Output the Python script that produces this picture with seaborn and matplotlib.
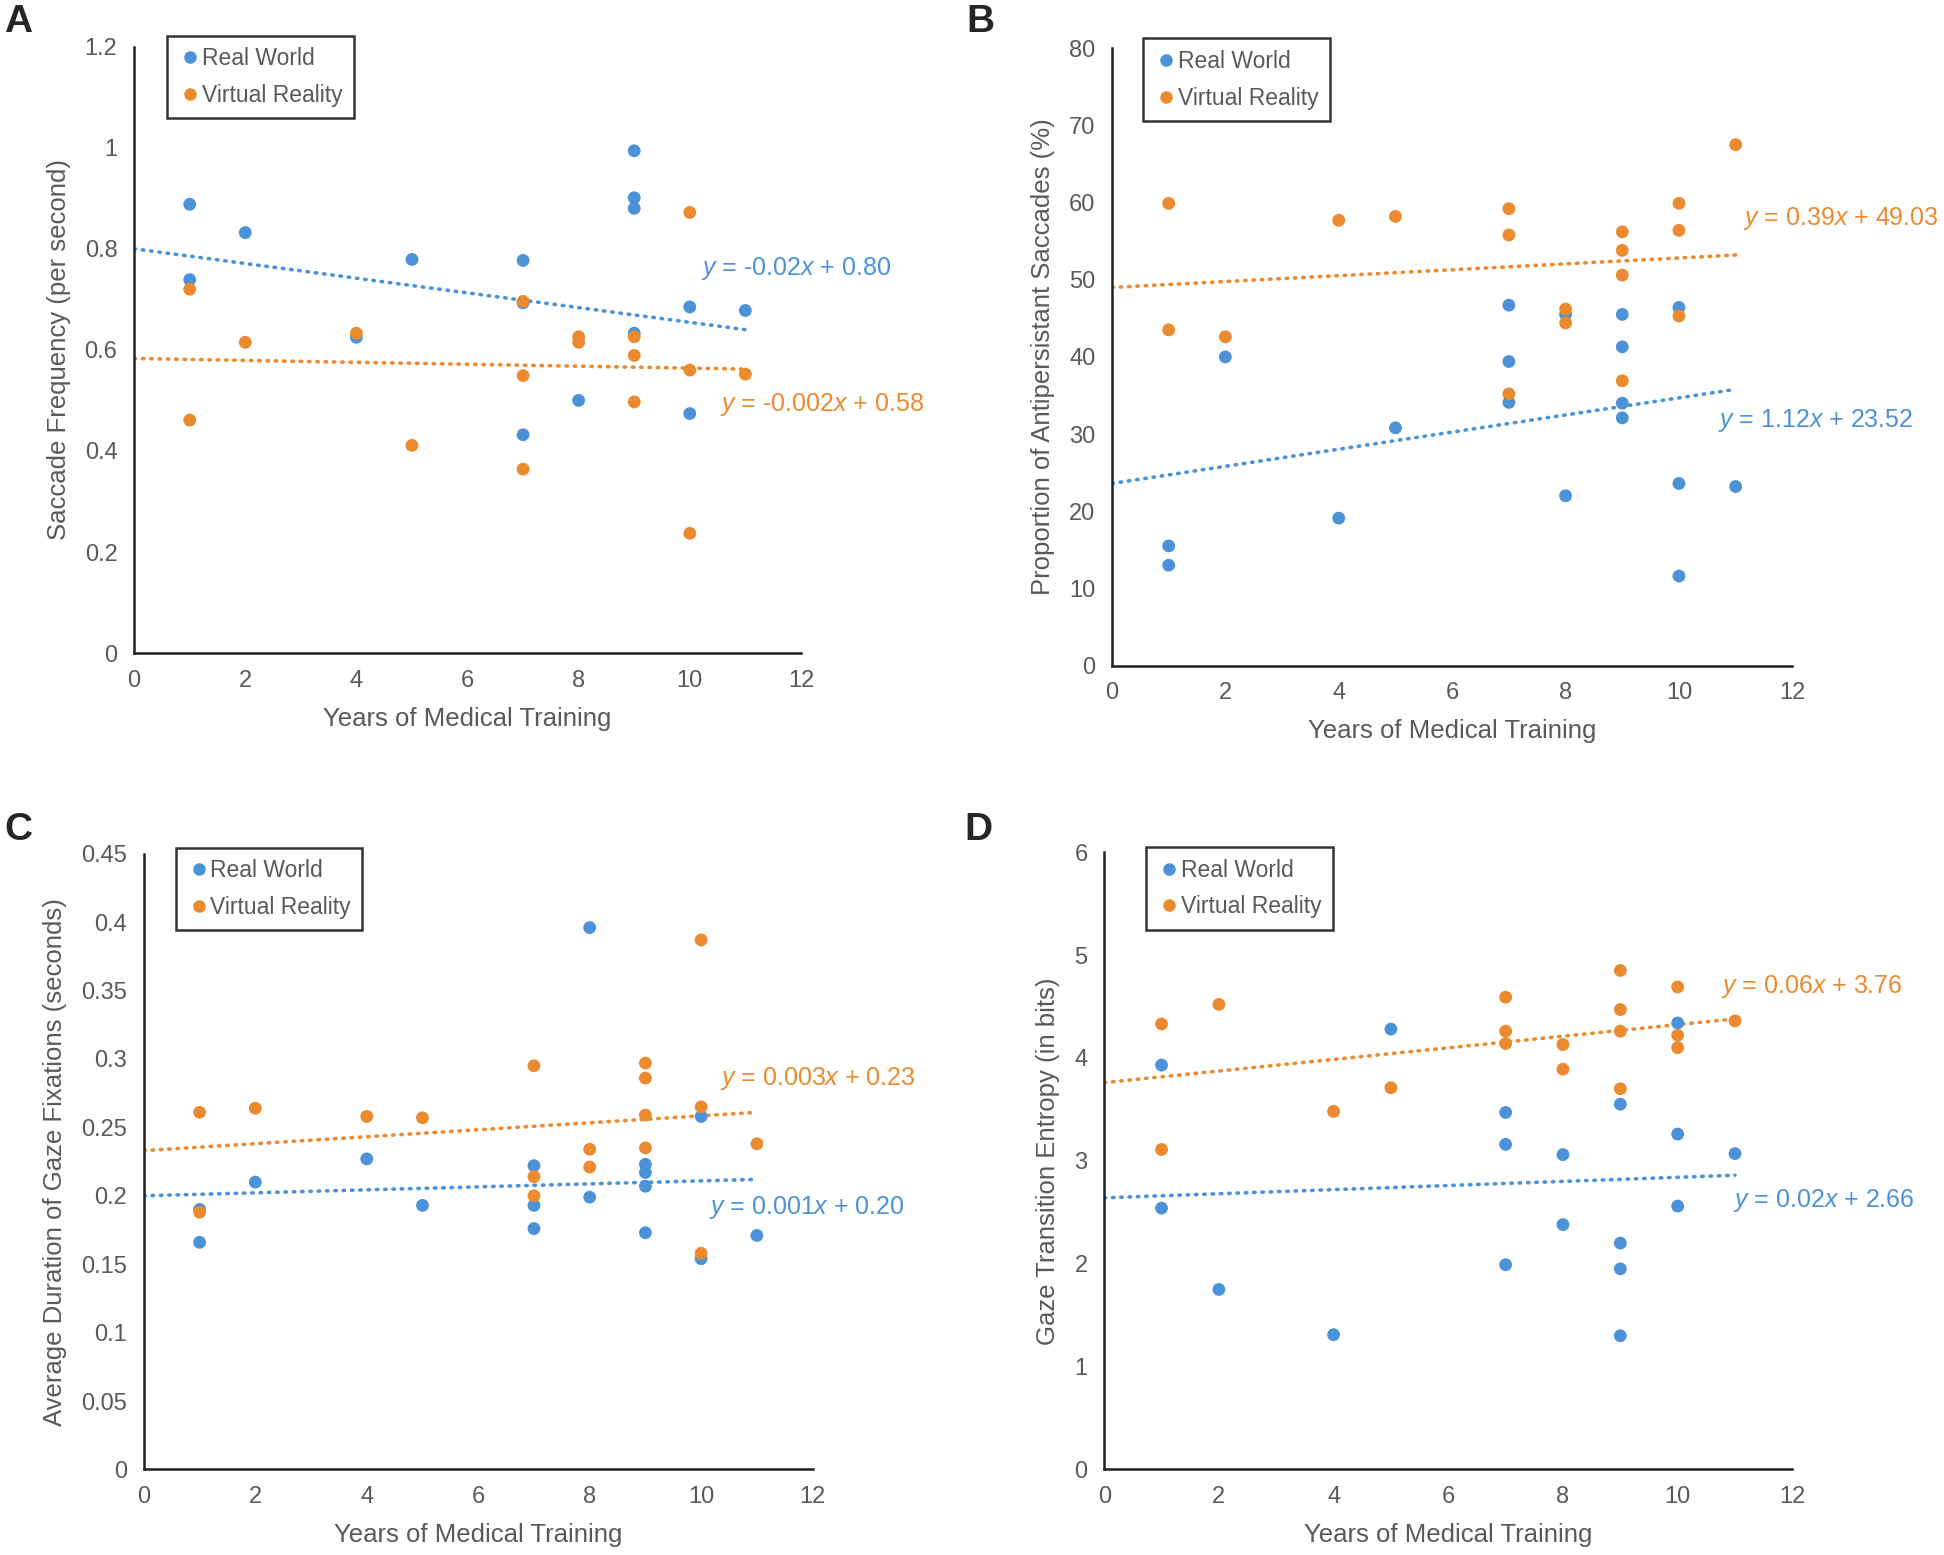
import pandas as pd
import matplotlib.pyplot as plt
import seaborn as sns
import numpy as np

# years of training (x) and measured values for each panel
years_rw_a = [1, 1, 2, 4, 5, 7, 7, 7, 8, 9, 9, 9, 9, 10, 10, 11]
vals_rw_a = [0.888, 0.739, 0.832, 0.625, 0.779, 0.777, 0.693, 0.432, 0.500,
             0.994, 0.901, 0.880, 0.633, 0.685, 0.474, 0.678]
years_vr_a = [1, 1, 2, 4, 5, 7, 7, 7, 8, 8, 9, 9, 9, 10, 10, 10, 11]
vals_vr_a = [0.720, 0.461, 0.615, 0.633, 0.411, 0.696, 0.549, 0.364, 0.626, 0.615,
             0.626, 0.589, 0.497, 0.872, 0.560, 0.237, 0.552]

years_b = [1, 1, 2, 4, 5, 7, 7, 7, 8, 8, 9, 9, 9, 9, 10, 10, 10, 11]
vals_rw_b = [15.5, 13.0, 40.0, 19.1, 30.8, 46.7, 39.4, 34.1, 45.5, 22.0,
             45.5, 41.3, 34.0, 32.1, 46.4, 23.6, 11.6, 23.2]
vals_vr_b = [59.9, 43.5, 42.6, 57.7, 58.2, 59.2, 55.8, 35.2, 46.2, 44.4,
             56.2, 53.8, 50.6, 36.9, 59.9, 56.4, 45.3, 67.5]

years_rw_c = [1, 1, 2, 4, 5, 7, 7, 7, 8, 8, 9, 9, 9, 9, 10, 10, 11]
vals_rw_c = [0.166, 0.190, 0.210, 0.227, 0.193, 0.222, 0.193, 0.176, 0.396, 0.199,
             0.223, 0.217, 0.207, 0.173, 0.258, 0.154, 0.171]
years_vr_c = [1, 1, 2, 4, 5, 7, 7, 7, 8, 8, 9, 9, 9, 9, 10, 10, 10, 11]
vals_vr_c = [0.261, 0.188, 0.264, 0.258, 0.257, 0.295, 0.214, 0.200, 0.234, 0.221,
             0.297, 0.286, 0.259, 0.235, 0.387, 0.265, 0.158, 0.238]

years_d = [1, 1, 2, 4, 5, 7, 7, 7, 8, 8, 9, 9, 9, 9, 10, 10, 10, 11]
vals_rw_d = [3.93, 2.54, 1.75, 1.31, 4.28, 3.47, 3.16, 1.99, 3.06, 2.38,
             3.55, 2.20, 1.95, 1.30, 4.34, 3.26, 2.56, 3.07]
vals_vr_d = [4.33, 3.11, 4.52, 3.48, 3.71, 4.59, 4.26, 4.14, 4.13, 3.89,
             4.85, 4.47, 4.26, 3.70, 4.69, 4.22, 4.10, 4.36]

# trendline ends (at x = 0 and x = 11)
trend_x = [0, 11]
trend_rw = {'A': [0.800, 0.640], 'B': [23.6, 35.8], 'C': [0.200, 0.212], 'D': [2.64, 2.86]}
trend_vr = {'A': [0.583, 0.562], 'B': [49.0, 53.2], 'C': [0.233, 0.261], 'D': [3.76, 4.38]}

eq_rw = {'A': '$y$ = -0.02$x$ + 0.80', 'B': '$y$ = 1.12$x$ + 23.52',
         'C': '$y$ = 0.001$x$ + 0.20', 'D': '$y$ = 0.02$x$ + 2.66'}
eq_vr = {'A': '$y$ = -0.002$x$ + 0.58', 'B': '$y$ = 0.39$x$ + 49.03',
         'C': '$y$ = 0.003$x$ + 0.23', 'D': '$y$ = 0.06$x$ + 3.76'}

ylabels = {'A': 'Saccade Frequency (per second)',
           'B': 'Proportion of Antipersistant Saccades (%)',
           'C': 'Average Duration of Gaze Fixations (seconds)',
           'D': 'Gaze Transition Entropy (in bits)'}
yticks = {'A': [0, 0.2, 0.4, 0.6, 0.8, 1, 1.2],
          'B': [0, 10, 20, 30, 40, 50, 60, 70, 80],
          'C': [0, 0.05, 0.1, 0.15, 0.2, 0.25, 0.3, 0.35, 0.4, 0.45],
          'D': [0, 1, 2, 3, 4, 5, 6]}
xticks = [0, 2, 4, 6, 8, 10, 12]

sns.set_style('white')
plt.rcParams['font.family'] = ['Liberation Sans', 'DejaVu Sans']
plt.rcParams['mathtext.fontset'] = 'custom'
plt.rcParams['mathtext.it'] = 'Liberation Sans:italic'
plt.rcParams['mathtext.rm'] = 'Liberation Sans'

blue = '#4C92D8'
orange = '#EB8A2E'
grey = '#595959'

panels = {
    'A': pd.concat([pd.DataFrame({'years': years_rw_a, 'value': vals_rw_a, 'group': 'Real World'}),
                    pd.DataFrame({'years': years_vr_a, 'value': vals_vr_a, 'group': 'Virtual Reality'})]),
    'B': pd.concat([pd.DataFrame({'years': years_b, 'value': vals_rw_b, 'group': 'Real World'}),
                    pd.DataFrame({'years': years_b, 'value': vals_vr_b, 'group': 'Virtual Reality'})]),
    'C': pd.concat([pd.DataFrame({'years': years_rw_c, 'value': vals_rw_c, 'group': 'Real World'}),
                    pd.DataFrame({'years': years_vr_c, 'value': vals_vr_c, 'group': 'Virtual Reality'})]),
    'D': pd.concat([pd.DataFrame({'years': years_d, 'value': vals_rw_d, 'group': 'Real World'}),
                    pd.DataFrame({'years': years_d, 'value': vals_vr_d, 'group': 'Virtual Reality'})]),
}

# axes boxes in figure fractions, legend anchors, equation positions
boxes = {'A': [0.069, 0.580, 0.343, 0.390], 'B': [0.572, 0.572, 0.350, 0.397],
         'C': [0.074, 0.055, 0.344, 0.396], 'D': [0.568, 0.055, 0.354, 0.397]}
leg_anchor = {'A': (0.05, 1.018), 'B': (0.046, 1.016), 'C': (0.048, 1.010), 'D': (0.061, 1.008)}
eq_rw_pos = {'A': (10.2, 0.762), 'B': (10.69, 31.7), 'C': (10.15, 0.1916), 'D': (10.96, 2.61)}
eq_vr_pos = {'A': (10.55, 0.492), 'B': (11.13, 57.9), 'C': (10.33, 0.2855), 'D': (10.75, 4.69)}
letter_pos = {'A': (0.002, 0.986), 'B': (0.497, 0.986), 'C': (0.002, 0.466), 'D': (0.496, 0.466)}

fig = plt.figure(figsize=(19.44, 15.55), dpi=100)

for key, df in panels.items():
    ax = fig.add_axes(boxes[key])
    sns.scatterplot(data=df, x='years', y='value', hue='group',
                    palette={'Real World': blue, 'Virtual Reality': orange},
                    s=85, edgecolor='none', legend=False, ax=ax, zorder=3)
    for tr, col in [(trend_rw, blue), (trend_vr, orange)]:
        sns.lineplot(x=trend_x, y=tr[key], color=col, linewidth=2.6, ax=ax, zorder=2,
                     dashes=False)
        ln = ax.lines[-1]
        ln.set_linestyle((0, (0.4, 1.9)))
        ln.set_dash_capstyle('round')

    yt = yticks[key]
    ax.set_xlim(0, 12)
    ax.set_ylim(yt[0], yt[-1])
    ax.set_xticks(xticks)
    ax.set_xticklabels([str(t) for t in xticks])
    ax.set_yticks(yt)
    ax.set_yticklabels(['{:g}'.format(t) for t in yt])
    ax.tick_params(axis='both', colors='#222222', labelcolor=grey, labelsize=17,
                   direction='in', length=6, width=1.8, pad=12)
    sns.despine(ax=ax)
    for sp in ['left', 'bottom']:
        ax.spines[sp].set_color('#222222')
        ax.spines[sp].set_linewidth(1.8)
    ax.set_xlabel('Years of Medical Training', fontsize=18.5, color=grey, labelpad=11)
    ax.set_ylabel(ylabels[key], fontsize=18.5, color=grey, labelpad=10)

    ax.text(*eq_rw_pos[key], eq_rw[key], color=blue, fontsize=18, va='center', ha='left', clip_on=False)
    ax.text(*eq_vr_pos[key], eq_vr[key], color=orange, fontsize=18, va='center', ha='left', clip_on=False)

    handles = [plt.Line2D([], [], marker='o', linestyle='', color=blue, markersize=8, label='Real World'),
               plt.Line2D([], [], marker='o', linestyle='', color=orange, markersize=8, label='Virtual Reality')]
    leg = ax.legend(handles=handles, loc='upper left', bbox_to_anchor=leg_anchor[key],
                    frameon=True, fancybox=False, edgecolor='black', fontsize=16.5,
                    handletextpad=0.0, handlelength=1.0, borderpad=0.5, labelspacing=0.6,
                    borderaxespad=0.0, labelcolor=grey)
    leg.get_frame().set_linewidth(1.8)

    fig.text(*letter_pos[key], key, fontsize=28, fontweight='bold', ha='left', va='center')

fig.savefig('out.png', dpi=100)
